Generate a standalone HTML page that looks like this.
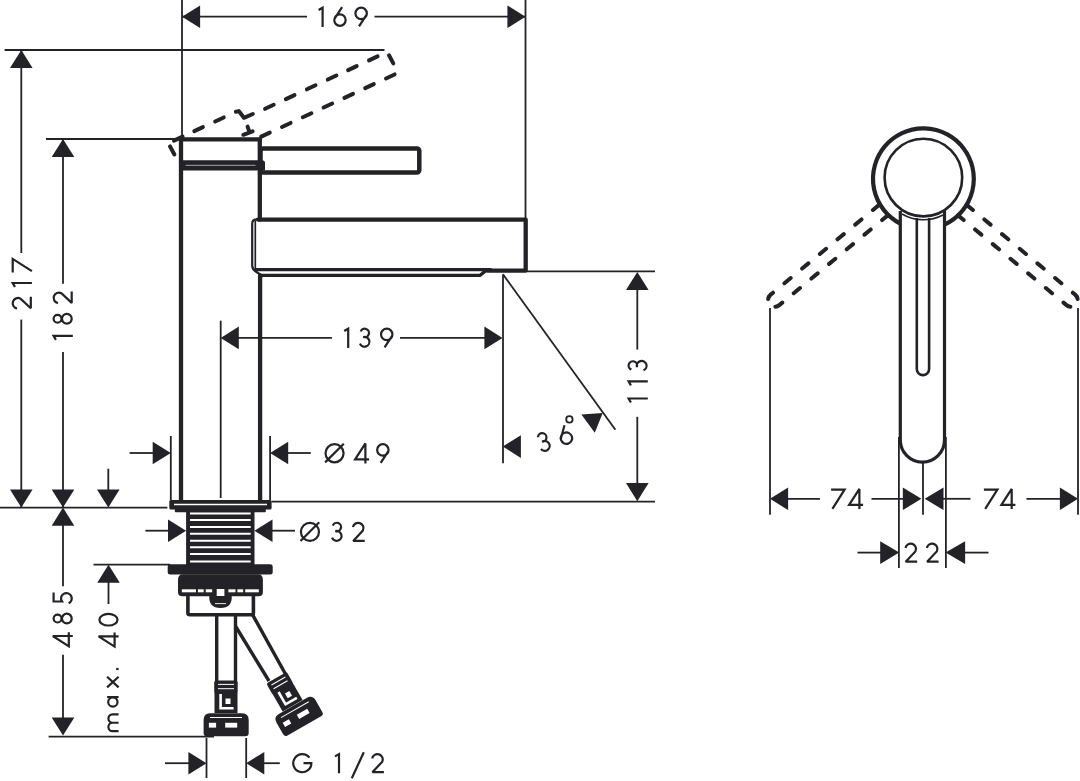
<!DOCTYPE html>
<html><head><meta charset="utf-8"><style>
html,body{margin:0;padding:0;background:#fff;width:1080px;height:781px;overflow:hidden}
svg{display:block}
.t{font-family:"Liberation Sans",sans-serif;font-size:27px;letter-spacing:4px;text-anchor:middle;fill:#232227;stroke:none}
</style></head><body>
<svg width="1080" height="781" viewBox="0 0 1080 781">
<g stroke="#232227" fill="#232227">
<line x1="182" y1="0" x2="182" y2="139" stroke-width="1.8" />
<line x1="525.5" y1="0" x2="525.5" y2="220" stroke-width="1.8" />
<line x1="182" y1="16.7" x2="307" y2="16.7" stroke-width="1.8" />
<line x1="374.5" y1="16.7" x2="525.5" y2="16.7" stroke-width="1.8" />
<polygon points="182.0,16.7 200.1,5.4 200.1,28.0" fill="#232227" stroke="none"/>
<polygon points="525.5,16.7 507.4,28.0 507.4,5.4" fill="#232227" stroke="none"/>
<line x1="4.6" y1="50" x2="384.5" y2="50" stroke-width="1.8" />
<line x1="21.3" y1="50" x2="21.3" y2="253" stroke-width="1.8" />
<line x1="21.3" y1="319.6" x2="21.3" y2="507.6" stroke-width="1.8" />
<polygon points="21.3,50.0 32.6,68.1 10.0,68.1" fill="#232227" stroke="none"/>
<polygon points="21.3,507.6 10.0,489.5 32.6,489.5" fill="#232227" stroke="none"/>
<line x1="46" y1="139" x2="182" y2="139" stroke-width="1.8" />
<line x1="63" y1="139" x2="63" y2="283.8" stroke-width="1.8" />
<line x1="63" y1="351.9" x2="63" y2="507.6" stroke-width="1.8" />
<polygon points="63.0,139.0 74.3,157.1 51.7,157.1" fill="#232227" stroke="none"/>
<polygon points="63.0,507.6 51.7,489.5 74.3,489.5" fill="#232227" stroke="none"/>
<line x1="0" y1="507.6" x2="167.4" y2="507.6" stroke-width="1.8" />
<line x1="108.3" y1="468.7" x2="108.3" y2="500" stroke-width="1.8" />
<polygon points="108.3,507.6 97.0,489.5 119.6,489.5" fill="#232227" stroke="none"/>
<polygon points="63.0,507.6 74.3,525.7 51.7,525.7" fill="#232227" stroke="none"/>
<line x1="63" y1="520" x2="63" y2="586.3" stroke-width="1.8" />
<line x1="63" y1="654.7" x2="63" y2="730" stroke-width="1.8" />
<polygon points="63.0,735.6 51.7,717.5 74.3,717.5" fill="#232227" stroke="none"/>
<line x1="48.6" y1="736.7" x2="214" y2="736.7" stroke-width="1.8" />
<line x1="93.5" y1="564.7" x2="170" y2="564.7" stroke-width="1.8" />
<polygon points="108.5,564.7 119.8,582.8 97.2,582.8" fill="#232227" stroke="none"/>
<line x1="108.5" y1="575" x2="108.5" y2="604" stroke-width="1.8" />
<line x1="170.8" y1="436" x2="170.8" y2="500" stroke-width="1.8" />
<line x1="270.1" y1="436" x2="270.1" y2="500" stroke-width="1.8" />
<line x1="129.6" y1="453" x2="160" y2="453" stroke-width="1.8" />
<polygon points="170.8,453.0 152.7,464.3 152.7,441.7" fill="#232227" stroke="none"/>
<line x1="280" y1="453" x2="310.8" y2="453" stroke-width="1.8" />
<polygon points="270.1,453.0 288.2,441.7 288.2,464.3" fill="#232227" stroke="none"/>
<line x1="271.6" y1="501.6" x2="655" y2="501.6" stroke-width="1.8" />
<line x1="145.4" y1="530.7" x2="175" y2="530.7" stroke-width="1.8" />
<polygon points="186.1,530.7 168.0,542.0 168.0,519.4" fill="#232227" stroke="none"/>
<line x1="265" y1="530.7" x2="295" y2="530.7" stroke-width="1.8" />
<polygon points="254.4,530.7 272.5,519.4 272.5,542.0" fill="#232227" stroke="none"/>
<line x1="220.7" y1="320.7" x2="220.7" y2="498" stroke-width="1.8" />
<line x1="230" y1="337.9" x2="331.9" y2="337.9" stroke-width="1.8" />
<line x1="400" y1="337.9" x2="490" y2="337.9" stroke-width="1.8" />
<polygon points="220.7,337.9 238.8,326.6 238.8,349.2" fill="#232227" stroke="none"/>
<polygon points="502.5,337.9 484.4,349.2 484.4,326.6" fill="#232227" stroke="none"/>
<line x1="503" y1="274.4" x2="503" y2="463.3" stroke-width="1.8" />
<line x1="503" y1="274.4" x2="615.4" y2="429.7" stroke-width="1.8" />
<polygon points="502.8,446.6 520.9,435.3 520.9,457.9" fill="#232227" stroke="none"/>
<polygon points="602.7,412.9 594.8,432.7 581.4,414.5" fill="#232227" stroke="none"/>
<line x1="525.7" y1="271.3" x2="655" y2="271.3" stroke-width="1.8" />
<line x1="637.3" y1="280" x2="637.3" y2="349.6" stroke-width="1.8" />
<line x1="637.3" y1="416.8" x2="637.3" y2="495" stroke-width="1.8" />
<polygon points="637.3,272.0 648.6,290.1 626.0,290.1" fill="#232227" stroke="none"/>
<polygon points="637.3,501.2 626.0,483.1 648.6,483.1" fill="#232227" stroke="none"/>
<line x1="206.5" y1="738" x2="206.5" y2="778" stroke-width="1.8" />
<line x1="246.2" y1="738" x2="246.2" y2="778" stroke-width="1.8" />
<line x1="165" y1="763.2" x2="195" y2="763.2" stroke-width="1.8" />
<polygon points="206.5,763.2 188.4,774.5 188.4,751.9" fill="#232227" stroke="none"/>
<line x1="255" y1="763.2" x2="279.8" y2="763.2" stroke-width="1.8" />
<polygon points="246.2,763.2 264.3,751.9 264.3,774.5" fill="#232227" stroke="none"/>
<g stroke-width="4.3" stroke-linejoin="round" stroke-linecap="round">
<line x1="181" y1="139.4" x2="181" y2="500" stroke-width="4.3" />
<line x1="259.8" y1="139.4" x2="259.8" y2="219.6" stroke-width="4.3" />
<line x1="260.1" y1="275.5" x2="260.1" y2="500" stroke-width="4.3" />
<line x1="181" y1="139.4" x2="259.8" y2="139.4" stroke-width="4.3" />
<path d="M179,160.2 H262 Q265,160.2 265,163 V170.5 H179 Z" fill="#232227" stroke="none"/>
<line x1="186" y1="165.4" x2="255" y2="165.4" stroke="#8a8889" stroke-width="1.2"/>
<rect x="260.5" y="148.4" width="158.8" height="24.2" rx="2.5" fill="none" stroke-width="4.5"/>
<path d="M258,219.6 H525.7 V270.6 H487.4" fill="none" stroke-width="4.3"/>
<path d="M256,269.6 H487.4 L480,275.3 H262" fill="none" stroke-width="3.2" stroke-linejoin="miter"/>
<path d="M262.5,276 L256.5,272 Q252.2,269.5 252.2,265.5 V224 Q252.2,219.4 256.8,219.4 H260" fill="none" stroke-width="2.2"/>
<line x1="255.3" y1="221" x2="255.3" y2="269.5" stroke-width="1.7"/>
</g>
<g fill="none" stroke-width="4.0" stroke-linecap="round" stroke-linejoin="round">
<line x1="265.11" y1="108.80" x2="273.69" y2="104.80"/>
<line x1="285.91" y1="99.10" x2="294.49" y2="95.10"/>
<line x1="306.91" y1="89.31" x2="315.49" y2="85.31"/>
<line x1="327.81" y1="79.56" x2="336.39" y2="75.56"/>
<line x1="348.11" y1="70.09" x2="356.69" y2="66.10"/>
<line x1="369.01" y1="60.35" x2="377.59" y2="56.35"/>
<line x1="174.01" y1="140.64" x2="182.59" y2="136.64"/>
<line x1="194.31" y1="131.17" x2="202.89" y2="127.17"/>
<line x1="215.16" y1="121.45" x2="223.74" y2="117.45"/>
<line x1="261.21" y1="136.64" x2="269.79" y2="132.64"/>
<line x1="282.01" y1="126.94" x2="290.59" y2="122.94"/>
<line x1="302.81" y1="117.24" x2="311.39" y2="113.24"/>
<line x1="323.61" y1="107.54" x2="332.19" y2="103.54"/>
<line x1="344.41" y1="97.84" x2="352.99" y2="93.85"/>
<line x1="365.21" y1="88.14" x2="373.79" y2="84.15"/>
<line x1="386.01" y1="78.45" x2="394.59" y2="74.45"/>
<line x1="389.0" y1="55.3" x2="393.3" y2="63.4"/>
<line x1="170.0" y1="146.4" x2="174.4" y2="154.5"/>
<path d="M235.9,111.8 L238.9,111.1 L243.9,117.8 L252.8,114.0"/>
<path d="M247.6,126.6 L249.0,130.6 M243.3,134.8 L252.6,131.4"/>
</g>
<rect x="169.3" y="499.9" width="102.3" height="9.6" rx="1.5" fill="#232227" stroke="none"/>
<line x1="174" y1="504.5" x2="267" y2="504.5" stroke="#fff" stroke-width="1.6"/>
<rect x="174.8" y="508" width="91" height="4.2" rx="1" fill="#232227" stroke="none"/>
<rect x="186.1" y="511" width="68.4" height="55" fill="#232227" stroke="none"/>
<line x1="190" y1="513.5" x2="250.7" y2="513.5" stroke="#fff" stroke-width="2"/>
<line x1="190" y1="520" x2="250.7" y2="520" stroke="#fff" stroke-width="2"/>
<line x1="190" y1="526.9" x2="250.7" y2="526.9" stroke="#fff" stroke-width="2"/>
<line x1="190" y1="533.8" x2="250.7" y2="533.8" stroke="#fff" stroke-width="2"/>
<line x1="190" y1="540.7" x2="250.7" y2="540.7" stroke="#fff" stroke-width="2"/>
<line x1="190" y1="547.3" x2="250.7" y2="547.3" stroke="#fff" stroke-width="2"/>
<line x1="190" y1="554.1" x2="250.7" y2="554.1" stroke="#fff" stroke-width="2"/>
<line x1="190" y1="561.5" x2="250.7" y2="561.5" stroke="#fff" stroke-width="2"/>
<rect x="167.7" y="564.2" width="105" height="10.4" rx="2.5" fill="#232227" stroke="none"/>
<path d="M178,580 Q178,574.2 183,574.2 H258 Q262.9,574.2 262.9,580 V592 Q262.9,596.3 258.6,596.3 H182.3 Q178,596.3 178,592 Z" fill="#232227" stroke="none"/>
<rect x="181.8" y="589.3" width="14.2" height="3" fill="#fff" stroke="none"/>
<rect x="197.9" y="589.3" width="5.8" height="3" fill="#fff" stroke="none"/>
<rect x="205.7" y="589.3" width="6.5" height="3" fill="#fff" stroke="none"/>
<rect x="228.4" y="589.3" width="7.1" height="3" fill="#fff" stroke="none"/>
<rect x="237.4" y="589.3" width="5.8" height="3" fill="#fff" stroke="none"/>
<rect x="245.2" y="589.3" width="13.6" height="3" fill="#fff" stroke="none"/>
<rect x="216.7" y="589.0" width="7.7" height="7.3" fill="#fff" stroke="none"/>
<path d="M209.3,596.0 H231.7 Q232.5,607.9 220.5,607.9 Q208.5,607.9 209.3,596.0 Z" fill="#232227" stroke="none"/>
<line x1="215" y1="603.6" x2="226" y2="603.6" stroke="#fff" stroke-width="0.9"/>
<path d="M187.9,596 V613 Q187.9,614.8 190,614.8 H251.5 Q253.4,614.8 253.4,613 V596" fill="none" stroke-width="3.6"/>
<g stroke-width="3.4" fill="none">
<line x1="216.7" y1="615" x2="216.7" y2="681" stroke-width="3.4" />
<line x1="235.5" y1="615" x2="235.5" y2="681" stroke-width="3.4" />
<line x1="235.7" y1="626.5" x2="269" y2="681" stroke-width="3.4" />
<line x1="252.4" y1="614.4" x2="286" y2="675" stroke-width="3.4" />
</g>
<g transform="">
<rect x="214.2" y="680.6" width="23.5" height="13.4" rx="2" fill="#232227" stroke="none"/>
<line x1="218" y1="684.4" x2="234" y2="684.4" stroke="#fff" stroke-width="1"/>
<line x1="218" y1="688.7" x2="234" y2="688.7" stroke="#fff" stroke-width="1"/>
<rect x="214.5" y="693" width="23" height="20" fill="#232227" stroke="none"/>
<path d="M220.6,694 V708.2 H233.6" fill="none" stroke="#fff" stroke-width="2.6"/>
<rect x="225.5" y="698.5" width="5" height="5.5" fill="#fff" stroke="none"/>
<path d="M203.6,733 V720 Q203.6,713.2 210,713.2 H242 Q248.7,713.2 248.7,720 V733 Q248.7,736.2 245.5,736.2 H206.8 Q203.6,736.2 203.6,733 Z" fill="#232227" stroke="none"/>
<line x1="210" y1="717.5" x2="242" y2="717.5" stroke="#fff" stroke-width="1"/>
<rect x="208.9" y="722.8" width="7.2" height="4.8" fill="#fff" stroke="none"/>
<rect x="225.2" y="722.8" width="12" height="4.8" fill="#fff" stroke="none"/>
</g>
<g transform="translate(276.7 677.6) rotate(-29.8) translate(-226.2 -680.6)">
<rect x="214.2" y="680.6" width="23.5" height="13.4" rx="2" fill="#232227" stroke="none"/>
<line x1="218" y1="684.4" x2="234" y2="684.4" stroke="#fff" stroke-width="1"/>
<line x1="218" y1="688.7" x2="234" y2="688.7" stroke="#fff" stroke-width="1"/>
<rect x="214.5" y="693" width="23" height="20" fill="#232227" stroke="none"/>
<path d="M220.6,694 V708.2 H233.6" fill="none" stroke="#fff" stroke-width="2.6"/>
<rect x="225.5" y="698.5" width="5" height="5.5" fill="#fff" stroke="none"/>
<path d="M203.6,733 V720 Q203.6,713.2 210,713.2 H242 Q248.7,713.2 248.7,720 V733 Q248.7,736.2 245.5,736.2 H206.8 Q203.6,736.2 203.6,733 Z" fill="#232227" stroke="none"/>
<line x1="210" y1="717.5" x2="242" y2="717.5" stroke="#fff" stroke-width="1"/>
<rect x="208.9" y="722.8" width="7.2" height="4.8" fill="#fff" stroke="none"/>
<rect x="225.2" y="722.8" width="12" height="4.8" fill="#fff" stroke="none"/>
</g>
<g fill="none">
<path d="M900.3,223.59 A50.4,50.4 0 1 1 944.5,224.57" stroke-width="4.2"/>
<circle cx="923.4" cy="177.6" r="38.8" stroke-width="2.6"/>
<path d="M900.3,211 V440 A22.1,22.1 0 0 0 944.5,440 V211" stroke-width="3.2"/>
<path d="M916.8,218 V369 A6.15,6.15 0 0 0 929.1,369 V218" stroke-width="2.6"/>
<path d="M902,213.97 A42.2,42.2 0 0 0 943,214.97" stroke-width="1.6"/>
</g>
<g fill="none" stroke-width="4.0" stroke-linecap="round"><path d="M879.10,204.89 L770.62,294.64 A6.8,6.8 0 0 0 769.71,304.21" stroke-dasharray="8.1 14.87" stroke-dashoffset="0.1"/><path d="M887.77,215.37 L779.29,305.11 A6.8,6.8 0 0 1 769.71,304.21" stroke-dasharray="8.1 14.85" stroke-dashoffset="0.8"/></g>
<g fill="none" stroke-width="4.0" stroke-linecap="round" transform="translate(1845.8,0) scale(-1,1)"><path d="M879.10,204.89 L770.62,294.64 A6.8,6.8 0 0 0 769.71,304.21" stroke-dasharray="8.1 14.87" stroke-dashoffset="0.1"/><path d="M887.77,215.37 L779.29,305.11 A6.8,6.8 0 0 1 769.71,304.21" stroke-dasharray="8.1 14.85" stroke-dashoffset="0.8"/></g>
<line x1="770" y1="308" x2="770" y2="514.8" stroke-width="1.8" />
<line x1="1078" y1="308" x2="1078" y2="514.8" stroke-width="1.8" />
<line x1="898.9" y1="437" x2="898.9" y2="568" stroke-width="1.8" />
<line x1="945.9" y1="437" x2="945.9" y2="568" stroke-width="1.8" />
<line x1="923" y1="463" x2="923" y2="514.8" stroke-width="1.8" />
<line x1="785" y1="498.8" x2="820" y2="498.8" stroke-width="1.8" />
<line x1="871.5" y1="498.8" x2="905" y2="498.8" stroke-width="1.8" />
<polygon points="770.0,498.8 788.1,487.5 788.1,510.1" fill="#232227" stroke="none"/>
<polygon points="921.4,498.8 902.8,510.1 902.8,487.5" fill="#232227" stroke="none"/>
<polygon points="924.7,498.8 943.5,487.5 943.5,510.1" fill="#232227" stroke="none"/>
<line x1="940" y1="498.8" x2="970.5" y2="498.8" stroke-width="1.8" />
<line x1="1026.4" y1="498.8" x2="1060" y2="498.8" stroke-width="1.8" />
<polygon points="1078.0,498.8 1059.9,510.1 1059.9,487.5" fill="#232227" stroke="none"/>
<line x1="857.5" y1="552.6" x2="885" y2="552.6" stroke-width="1.8" />
<polygon points="899.2,552.6 880.2,563.9 880.2,541.3" fill="#232227" stroke="none"/>
<polygon points="945.6,552.6 965.1,541.3 965.1,563.9" fill="#232227" stroke="none"/>
<line x1="960" y1="552.6" x2="988.5" y2="552.6" stroke-width="1.8" />
<g transform="translate(317.5,6.6)" fill="none" stroke-width="2.2" stroke-linecap="butt" stroke-linejoin="miter" stroke-miterlimit="2.2" ><path transform="translate(0.00,0)" d="M5.10,20.30 V1.10 L1.10,3.40"/><path transform="translate(15.50,0)" d="M9.10,0.60 L1.45,12.30 M1.25,13.50 A5.70,5.70 0 1 0 12.65,13.50 A5.70,5.70 0 1 0 1.25,13.50"/><path transform="translate(36.60,0)" d="M4.90,19.70 L12.55,8.00 M1.35,6.80 A5.70,5.70 0 1 0 12.75,6.80 A5.70,5.70 0 1 0 1.35,6.80"/></g>
<g transform="translate(343.1,327.6)" fill="none" stroke-width="2.2" stroke-linecap="butt" stroke-linejoin="miter" stroke-miterlimit="2.2" ><path transform="translate(0.00,0)" d="M5.10,20.30 V1.10 L1.10,3.40"/><path transform="translate(15.60,0)" d="M2.01,3.90 A4.25,4.25 0 1 1 4.69,9.39 A4.90,4.90 0 1 1 1.25,15.98"/><path transform="translate(36.60,0)" d="M4.90,19.70 L12.55,8.00 M1.35,6.80 A5.70,5.70 0 1 0 12.75,6.80 A5.70,5.70 0 1 0 1.35,6.80"/></g>
<g transform="translate(324.3,443.1)" fill="none" stroke-width="2.2" stroke-linecap="butt" stroke-linejoin="miter" stroke-miterlimit="2.2" ><path transform="translate(0.00,0)" d="M1.20,10.15 A9.05,9.05 0 1 0 19.30,10.15 A9.05,9.05 0 1 0 1.20,10.15 M0.80,19.30 L19.50,0.60"/><path transform="translate(30.00,0)" d="M11.10,20.30 V0.30 L0.80,16.30 H14.80"/><path transform="translate(51.50,0)" d="M4.90,19.70 L12.55,8.00 M1.35,6.80 A5.70,5.70 0 1 0 12.75,6.80 A5.70,5.70 0 1 0 1.35,6.80"/></g>
<g transform="translate(299.7,521.7)" fill="none" stroke-width="2.2" stroke-linecap="butt" stroke-linejoin="miter" stroke-miterlimit="2.2" ><path transform="translate(0.00,0)" d="M1.20,10.15 A9.05,9.05 0 1 0 19.30,10.15 A9.05,9.05 0 1 0 1.20,10.15 M0.80,19.30 L19.50,0.60"/><path transform="translate(31.10,0)" d="M2.01,3.90 A4.25,4.25 0 1 1 4.69,9.39 A4.90,4.90 0 1 1 1.25,15.98"/><path transform="translate(52.20,0)" d="M1.08,5.48 A5.30,5.30 0 1 1 10.98,8.89 L1.30,19.20 H12.80"/></g>
<g transform="translate(292.1,753.0)" fill="none" stroke-width="2.2" stroke-linecap="butt" stroke-linejoin="miter" stroke-miterlimit="2.2" ><path transform="translate(0.00,0)" d="M17.33,4.58 A9.05,9.05 0 1 0 19.25,10.15 H11.40"/><path transform="translate(41.80,0)" d="M5.10,20.30 V1.10 L1.10,3.40"/><path transform="translate(59.10,0)" d="M0.60,25.30 L12.60,-0.80"/><path transform="translate(79.00,0)" d="M1.08,5.48 A5.30,5.30 0 1 1 10.98,8.89 L1.30,19.20 H12.80"/></g>
<g transform="translate(831.1,488.6)" fill="none" stroke-width="2.2" stroke-linecap="butt" stroke-linejoin="miter" stroke-miterlimit="2.2" ><path transform="translate(0.00,0)" d="M0,1.10 H13.50 L1.30,20.30"/><path transform="translate(17.20,0)" d="M11.10,20.30 V0.30 L0.80,16.30 H14.80"/></g>
<g transform="translate(983.9,488.6)" fill="none" stroke-width="2.2" stroke-linecap="butt" stroke-linejoin="miter" stroke-miterlimit="2.2" ><path transform="translate(0.00,0)" d="M0,1.10 H13.50 L1.30,20.30"/><path transform="translate(16.70,0)" d="M11.10,20.30 V0.30 L0.80,16.30 H14.80"/></g>
<g transform="translate(904.4,542.5)" fill="none" stroke-width="2.2" stroke-linecap="butt" stroke-linejoin="miter" stroke-miterlimit="2.2" ><path transform="translate(0.00,0)" d="M1.08,5.48 A5.30,5.30 0 1 1 10.98,8.89 L1.30,19.20 H12.80"/><path transform="translate(21.40,0)" d="M1.08,5.48 A5.30,5.30 0 1 1 10.98,8.89 L1.30,19.20 H12.80"/></g>
<g transform="translate(11.6,309.6) rotate(-90)" fill="none" stroke-width="2.2" stroke-linecap="butt" stroke-linejoin="miter" stroke-miterlimit="2.2" ><path transform="translate(0.00,0)" d="M1.08,5.48 A5.30,5.30 0 1 1 10.98,8.89 L1.30,19.20 H12.80"/><path transform="translate(21.50,0)" d="M5.10,20.30 V1.10 L1.10,3.40"/><path transform="translate(37.20,0)" d="M0,1.10 H13.50 L1.30,20.30"/></g>
<g transform="translate(52.5,341) rotate(-90)" fill="none" stroke-width="2.2" stroke-linecap="butt" stroke-linejoin="miter" stroke-miterlimit="2.2" ><path transform="translate(0.00,0)" d="M5.10,20.30 V1.10 L1.10,3.40"/><path transform="translate(16.20,0)" d="M2.10,5.05 A3.95,3.95 0 1 0 10.00,5.05 A3.95,3.95 0 1 0 2.10,5.05 M1.20,14.35 A4.85,4.85 0 1 0 10.90,14.35 A4.85,4.85 0 1 0 1.20,14.35"/><path transform="translate(36.80,0)" d="M1.08,5.48 A5.30,5.30 0 1 1 10.98,8.89 L1.30,19.20 H12.80"/></g>
<g transform="translate(627.5,403.6) rotate(-90)" fill="none" stroke-width="2.2" stroke-linecap="butt" stroke-linejoin="miter" stroke-miterlimit="2.2" ><path transform="translate(0.00,0)" d="M5.10,20.30 V1.10 L1.10,3.40"/><path transform="translate(17.10,0)" d="M5.10,20.30 V1.10 L1.10,3.40"/><path transform="translate(32.00,0)" d="M2.01,3.90 A4.25,4.25 0 1 1 4.69,9.39 A4.90,4.90 0 1 1 1.25,15.98"/></g>
<g transform="translate(52.5,647.1) rotate(-90)" fill="none" stroke-width="2.2" stroke-linecap="butt" stroke-linejoin="miter" stroke-miterlimit="2.2" ><path transform="translate(0.00,0)" d="M11.10,20.30 V0.30 L0.80,16.30 H14.80"/><path transform="translate(22.50,0)" d="M2.10,5.05 A3.95,3.95 0 1 0 10.00,5.05 A3.95,3.95 0 1 0 2.10,5.05 M1.20,14.35 A4.85,4.85 0 1 0 10.90,14.35 A4.85,4.85 0 1 0 1.20,14.35"/><path transform="translate(42.70,0)" d="M11.80,1.10 H2.90 L2.93,9.52 A5.35,5.35 0 1 1 1.15,16.16"/></g>
<g transform="translate(98.3,732.3) rotate(-90)" fill="none" stroke-width="2.2" stroke-linecap="butt" stroke-linejoin="miter" stroke-miterlimit="2.2" ><path transform="translate(0.00,0)" d="M1.10,20.30 V14.13 A4.23,4.23 0 0 1 9.55,14.13 V20.30 M9.55,14.13 A4.23,4.23 0 0 1 18.00,14.13 V20.30"/><path transform="translate(24.30,0)" d="M11.00,8.80 V20.30 M1.40,14.55 A4.65,4.65 0 1 0 10.70,14.55 A4.65,4.65 0 1 0 1.40,14.55"/><path transform="translate(44.20,0)" d="M0.70,8.80 L11.40,20.30 M11.40,8.80 L0.70,20.30"/><path transform="translate(62.00,0)" d="M1.30,17.90 V20.30"/><path transform="translate(84.90,0)" d="M11.10,20.30 V0.30 L0.80,16.30 H14.80"/><path transform="translate(105.70,0)" d="M1.10,10.15 A5.80,9.05 0 1 0 12.70,10.15 A5.80,9.05 0 1 0 1.10,10.15"/></g>
<g transform="translate(543.7,442) rotate(-18) translate(-6,-10.15)" fill="none" stroke-width="2.2" stroke-linecap="butt" stroke-linejoin="miter" stroke-miterlimit="2.2" ><path transform="translate(0.00,0)" d="M2.01,3.90 A4.25,4.25 0 1 1 4.69,9.39 A4.90,4.90 0 1 1 1.25,15.98"/></g>
<g transform="translate(565.4,435) rotate(-18) translate(-6.95,-10.15)" fill="none" stroke-width="2.2" stroke-linecap="butt" stroke-linejoin="miter" stroke-miterlimit="2.2" ><path transform="translate(0.00,0)" d="M9.10,0.60 L1.45,12.30 M1.25,13.50 A5.70,5.70 0 1 0 12.65,13.50 A5.70,5.70 0 1 0 1.25,13.50"/></g>
<circle cx="569.4" cy="419.4" r="3.2" fill="none" stroke-width="1.8"/>
</g>
</svg></body></html>
